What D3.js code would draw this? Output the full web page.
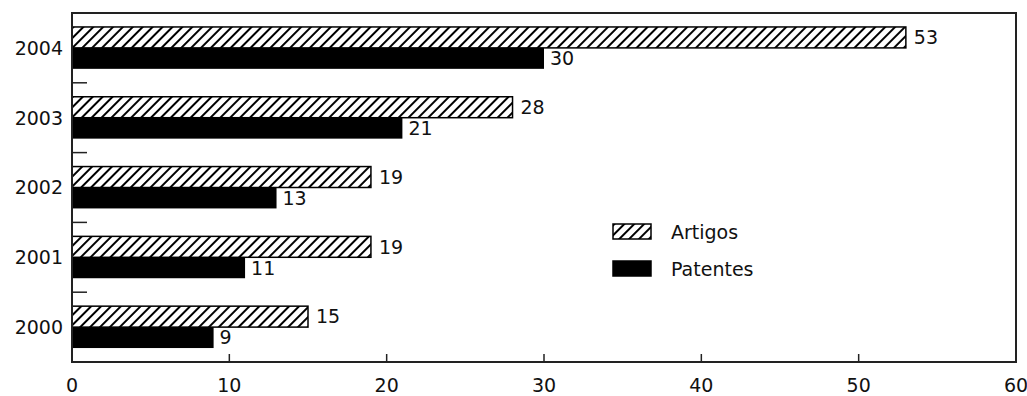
<!DOCTYPE html>
<html>
<head>
<meta charset="utf-8">
<script src="https://cdn.jsdelivr.net/npm/d3@7/dist/d3.min.js"></script>
<style>
  html, body { margin: 0; padding: 0; background: #fff; }
  svg { display: block; }
  text { font-family: "DejaVu Sans", sans-serif; fill: #111; }
</style>
</head>
<body>
<svg id="chart" width="1027" height="396"></svg>
<script>
// Publications per year
const years = ["2004", "2003", "2002", "2001", "2000"];
const artigos = [53, 28, 19, 19, 15];
const patentes = [30, 21, 13, 11, 9];
const seriesNames = ["Artigos", "Patentes"];
const xTicks = [0, 10, 20, 30, 40, 50, 60];

const svg = d3.select("#chart");
const plotLeft = 72, plotRight = 1016, plotTop = 13, plotBottom = 362;
const fontSize = 19;

const x = d3.scaleLinear().domain([0, 60]).range([plotLeft, plotRight]);
const y = d3.scaleBand().domain(years).range([plotTop, plotBottom]).paddingInner(0).paddingOuter(0);
const inner = y.bandwidth() * 0.6;
const barH = inner / 2;

// Diagonal hatch fill
const defs = svg.append("defs");
defs.append("pattern")
  .attr("id", "hatch")
  .attr("patternUnits", "userSpaceOnUse")
  .attr("width", 7).attr("height", 7)
  .attr("patternTransform", "rotate(45)")
  .call(p => {
    p.append("rect").attr("width", 7).attr("height", 7).attr("fill", "#fff");
    p.append("line").attr("x1", 1).attr("y1", 0).attr("x2", 1).attr("y2", 7)
      .attr("stroke", "#000").attr("stroke-width", 2);
  });

const g = svg.append("g");

// Hatched bars (Artigos)
g.selectAll("rect.art").data(years).join("rect")
  .attr("class", "art")
  .attr("x", x(0))
  .attr("y", d => y(d) + (y.bandwidth() - inner) / 2)
  .attr("width", (d, i) => x(artigos[i]) - x(0))
  .attr("height", barH)
  .attr("fill", "url(#hatch)")
  .attr("stroke", "#000").attr("stroke-width", 1.5);

// Solid bars (Patentes)
g.selectAll("rect.pat").data(years).join("rect")
  .attr("class", "pat")
  .attr("x", x(0))
  .attr("y", d => y(d) + (y.bandwidth() - inner) / 2 + barH)
  .attr("width", (d, i) => x(patentes[i]) - x(0))
  .attr("height", barH)
  .attr("fill", "#000");

// Value labels
g.selectAll("text.va").data(years).join("text")
  .attr("class", "va")
  .attr("x", (d, i) => x(artigos[i]) + 8)
  .attr("y", d => y(d) + (y.bandwidth() - inner) / 2 + barH / 2)
  .attr("dy", "0.36em")
  .attr("font-size", fontSize)
  .text((d, i) => artigos[i]);
g.selectAll("text.vp").data(years).join("text")
  .attr("class", "vp")
  .attr("x", (d, i) => x(patentes[i]) + 6)
  .attr("y", d => y(d) + (y.bandwidth() - inner) / 2 + barH * 1.5)
  .attr("dy", "0.36em")
  .attr("font-size", fontSize)
  .text((d, i) => patentes[i]);

// Frame
svg.append("rect")
  .attr("x", plotLeft).attr("y", plotTop)
  .attr("width", plotRight - plotLeft).attr("height", plotBottom - plotTop)
  .attr("fill", "none").attr("stroke", "#222").attr("stroke-width", 2);

// Category separators on the left axis
const seps = years.slice(1).map(d => y(d));
svg.selectAll("line.sep").data(seps).join("line")
  .attr("class", "sep")
  .attr("x1", plotLeft).attr("x2", plotLeft + 15)
  .attr("y1", d => d).attr("y2", d => d)
  .attr("stroke", "#222").attr("stroke-width", 1.5);

// Year labels
svg.selectAll("text.yl").data(years).join("text")
  .attr("class", "yl")
  .attr("x", plotLeft - 9)
  .attr("y", d => y(d) + y.bandwidth() / 2)
  .attr("dy", "0.36em")
  .attr("text-anchor", "end")
  .attr("font-size", fontSize)
  .text(d => d);

// Bottom axis ticks and labels
svg.selectAll("line.xt").data(xTicks.slice(1, -1)).join("line")
  .attr("class", "xt")
  .attr("x1", d => x(d)).attr("x2", d => x(d))
  .attr("y1", plotBottom).attr("y2", plotBottom - 8)
  .attr("stroke", "#222").attr("stroke-width", 1.5);
svg.selectAll("text.xl").data(xTicks).join("text")
  .attr("class", "xl")
  .attr("x", d => x(d))
  .attr("y", 385)
  .attr("dy", "0.36em")
  .attr("text-anchor", "middle")
  .attr("font-size", fontSize)
  .text(d => d);

// Legend
const legend = svg.append("g").attr("transform", "translate(613,224)");
seriesNames.forEach((name, i) => {
  const row = legend.append("g").attr("transform", `translate(0,${i * 37})`);
  row.append("rect").attr("width", 38).attr("height", 15)
    .attr("fill", i === 0 ? "url(#hatch)" : "#000")
    .attr("stroke", "#000").attr("stroke-width", 1.5);
  row.append("text").attr("x", 58).attr("y", 8).attr("dy", "0.36em")
    .attr("font-size", fontSize).text(name);
});
</script>
</body>
</html>
